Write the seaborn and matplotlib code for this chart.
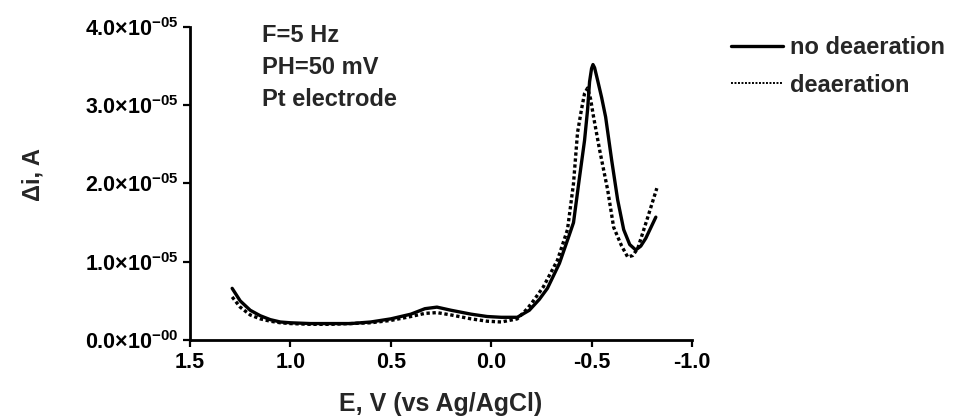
import matplotlib
matplotlib.use("Agg")
import matplotlib.pyplot as plt
import seaborn as sns
import pandas as pd
import numpy as np
from matplotlib.lines import Line2D

# ---- data ----
E_no_deaer = [1.29, 1.25, 1.20, 1.15, 1.10, 1.05, 1.00, 0.90, 0.80, 0.70, 0.60, 0.50,
              0.40, 0.33, 0.27, 0.20, 0.10, 0.02, -0.05, -0.13, -0.19, -0.24, -0.28,
              -0.34, -0.39, -0.41, -0.44, -0.465, -0.48, -0.49, -0.50, -0.507, -0.515,
              -0.53, -0.55, -0.57, -0.60, -0.63, -0.66, -0.69, -0.72, -0.745, -0.77, -0.82]
I_no_deaer = [0.66, 0.50, 0.38, 0.31, 0.26, 0.23, 0.22, 0.21, 0.21, 0.21, 0.23, 0.27,
              0.33, 0.40, 0.42, 0.38, 0.33, 0.30, 0.29, 0.29, 0.38, 0.52, 0.66,
              0.98, 1.35, 1.50, 2.08, 2.55, 2.94, 3.30, 3.47, 3.52, 3.48,
              3.32, 3.10, 2.85, 2.30, 1.79, 1.41, 1.22, 1.15, 1.20, 1.30, 1.57]

E_deaer = [1.29, 1.25, 1.20, 1.15, 1.10, 1.05, 1.00, 0.90, 0.80, 0.70, 0.60, 0.50,
           0.40, 0.33, 0.27, 0.20, 0.10, 0.02, -0.05, -0.13, -0.18, -0.21, -0.26,
           -0.33, -0.38, -0.41, -0.43, -0.45, -0.465, -0.48, -0.495, -0.51, -0.54,
           -0.58, -0.61, -0.65, -0.68, -0.705, -0.73, -0.78, -0.825]
I_deaer = [0.55, 0.42, 0.32, 0.27, 0.24, 0.22, 0.21, 0.20, 0.20, 0.21, 0.22, 0.25,
           0.30, 0.34, 0.35, 0.32, 0.27, 0.24, 0.23, 0.27, 0.40, 0.50, 0.68,
           1.02, 1.41, 2.00, 2.65, 2.95, 3.15, 3.22, 3.08, 2.85, 2.43,
           1.92, 1.44, 1.20, 1.06, 1.08, 1.17, 1.57, 1.94]

series_names = ["no deaeration", "deaeration"]
x_ticks = [1.5, 1.0, 0.5, 0.0, -0.5, -1.0]
x_tick_labels = ["1.5", "1.0", "0.5", "0.0", "-0.5", "-1.0"]
y_ticks = [0.0, 1.0e-5, 2.0e-5, 3.0e-5, 4.0e-5]
y_tick_labels = [r"0.0×10$^{-00}$", r"1.0×10$^{-05}$", r"2.0×10$^{-05}$",
                 r"3.0×10$^{-05}$", r"4.0×10$^{-05}$"]
annotation_lines = ["F=5 Hz", "PH=50 mV", "Pt electrode"]

df = pd.concat([
    pd.DataFrame({"E": E_no_deaer, "I": np.array(I_no_deaer) * 1e-5, "series": series_names[0]}),
    pd.DataFrame({"E": E_deaer, "I": np.array(I_deaer) * 1e-5, "series": series_names[1]}),
])

sns.set_style("ticks")
plt.rcParams["font.family"] = ["Liberation Sans", "DejaVu Sans"]
plt.rcParams["font.weight"] = "bold"
plt.rcParams["mathtext.fontset"] = "custom"
plt.rcParams["mathtext.rm"] = "Liberation Sans:bold"
plt.rcParams["mathtext.it"] = "Liberation Sans:bold"
plt.rcParams["mathtext.bf"] = "Liberation Sans:bold"
plt.rcParams["mathtext.default"] = "rm"

fig = plt.figure(figsize=(9.62, 4.2), dpi=100)
ax = fig.add_axes([0.1975, 0.1905, 0.5218, 0.7452])

sns.lineplot(data=df, x="E", y="I", hue="series", style="series",
             hue_order=series_names, style_order=series_names,
             palette={series_names[0]: "black", series_names[1]: "black"},
             dashes={series_names[0]: "", series_names[1]: (1, 0.8)},
             linewidth=2.4, sort=False, estimator=None, ax=ax, legend=False)
for ln in ax.get_lines():
    ln.set_solid_joinstyle("round")
    ln.set_dash_joinstyle("round")

ax.set_xlim(1.5, -1.0)
ax.set_ylim(0, 4.0e-5)
ax.set_xticks(x_ticks)
ax.set_xticklabels(x_tick_labels)
ax.set_yticks(y_ticks)
ax.set_yticklabels(y_tick_labels)
for s in ["top", "right"]:
    ax.spines[s].set_visible(False)
for s in ["left", "bottom"]:
    ax.spines[s].set_linewidth(2.0)
    ax.spines[s].set_color("black")
ax.tick_params(axis="both", direction="out", length=5, width=1.6, colors="black",
               labelsize=15.5)
ax.tick_params(axis="x", pad=4)
ax.tick_params(axis="y", pad=3)
for lab in ax.get_xticklabels() + ax.get_yticklabels():
    lab.set_fontweight("bold")

ax.set_xlabel("E, V (vs Ag/AgCl)", fontsize=18, fontweight="bold")
ax.set_ylabel("Δi, A", fontsize=17, fontweight="bold")
ax.xaxis.set_label_coords(0.5, -0.165)
ax.yaxis.set_label_coords(-0.29, 0.53)

for k, txt in enumerate(annotation_lines):
    fig.text(262 / 962, 1 - (35 + k * 32) / 420, txt, fontsize=17, fontweight="bold",
             ha="left", va="center")

handles = [Line2D([], [], color="black", lw=2.4),
           Line2D([], [], color="black", lw=1.4, dashes=(1, 0.8))]
fig.legend(handles, series_names, loc="upper left", bbox_to_anchor=(722 / 962, 1 - 27 / 420),
           frameon=False, prop={"weight": "bold", "size": 17},
           handlelength=2.2, handletextpad=0.3, labelspacing=0.6, borderaxespad=0)

fig.savefig("out.png", dpi=100)
